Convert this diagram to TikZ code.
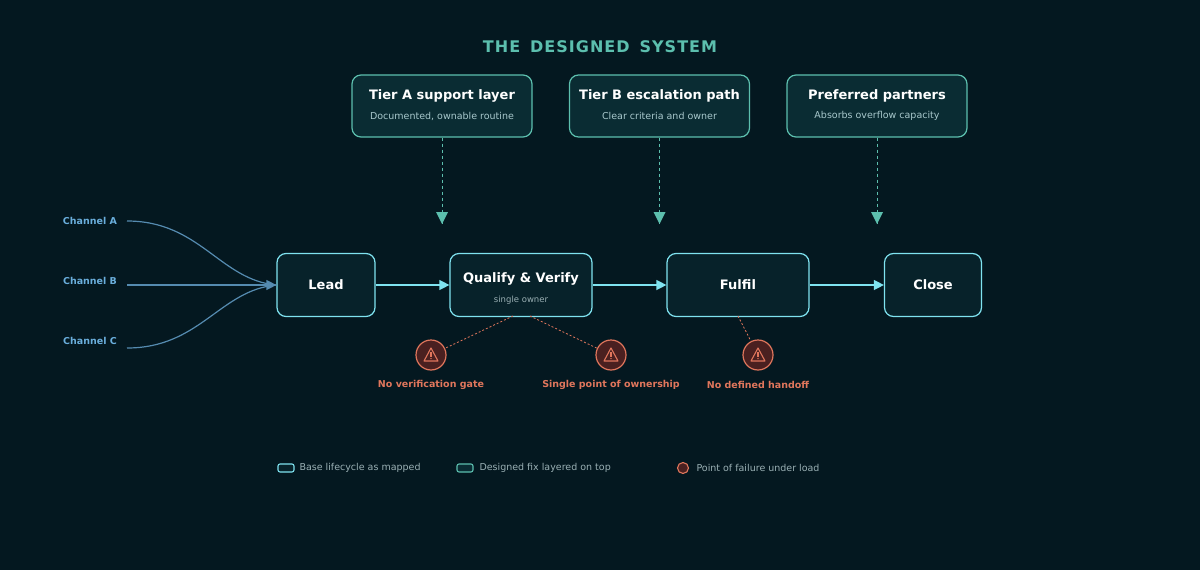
\documentclass[tikz,border=0pt]{standalone}
\usepackage{fontspec}
\setmainfont{DejaVu Sans}
\usetikzlibrary{arrows.meta}
\definecolor{bg}{HTML}{041820}
\definecolor{tealc}{HTML}{5CBFAE}
\definecolor{cyanc}{HTML}{7FE3F0}
\definecolor{chan}{HTML}{6AAEDC}
\definecolor{warnc}{HTML}{E0765C}
\definecolor{warnfill}{HTML}{4A2020}
\definecolor{topfill}{HTML}{0A2C33}
\definecolor{mainfill}{HTML}{07222A}
\definecolor{subc}{HTML}{A8C8CC}
\definecolor{legc}{HTML}{9AB0B4}
\tikzset{
 fixbx/.style={draw=tealc,fill=topfill,line width=1.2pt,rounded corners=9pt,minimum width=180pt,minimum height=62pt},
 stage/.style={draw=cyanc,fill=mainfill,line width=1.2pt,rounded corners=9pt,minimum height=63pt,text=white,font=\bfseries\fontsize{13}{15}\selectfont},
 warncirc/.style={circle,draw=warnc,fill=warnfill,line width=1.2pt,minimum size=30pt,inner sep=0pt},
 wlab/.style={text=warnc,font=\bfseries\fontsize{9.5}{11}\selectfont},
 chl/.style={text=chan,font=\bfseries\fontsize{9.5}{11}\selectfont},
 flow/.style={cyanc,line width=1.3pt,-{Triangle[length=10pt,width=10pt]}},
 fixdash/.style={tealc,line width=1pt,dash pattern=on 3pt off 3pt},
 wdot/.style={warnc,line width=0.8pt,dash pattern=on 2pt off 2pt},
 chcurve/.style={chan!80!black,line width=1.2pt},
 legt/.style={text=legc,font=\fontsize{9.5}{11}\selectfont,anchor=west},
}
\begin{document}
\begin{tikzpicture}[x=1pt,y=-1pt]
\fill[bg] (0,0) rectangle (1200,570);
\useasboundingbox (0,0) rectangle (1200,570);
\node[text=tealc,font=\bfseries\fontsize{16}{18}\selectfont] (title) at (600,47) {T\kern1pt H\kern1pt E\; D\kern1pt E\kern1pt S\kern1pt I\kern1pt G\kern1pt N\kern1pt E\kern1pt D\; S\kern1pt Y\kern1pt S\kern1pt T\kern1pt E\kern1pt M};
\newcommand\fixbox[4]{\node[fixbx] (#1) at (#2,106) {};
 \node[text=white,font=\bfseries\fontsize{13}{15}\selectfont] (#1t) at (#2,96) {#3};
 \node[text=subc,font=\fontsize{9.5}{11}\selectfont] (#1s) at (#2,116) {#4};}
\fixbox{ta}{442}{Tier A support layer}{Documented, ownable routine}
\fixbox{tb}{659.5}{Tier B escalation path}{Clear criteria and owner}
\fixbox{pp}{877}{Preferred partners}{Absorbs overflow capacity}
\coordinate (ea) at (442,224);\coordinate (eb) at (659.5,224);\coordinate (ep) at (877,224);
\foreach \a/\b in {ta/ea,tb/eb,pp/ep}{
 \draw[fixdash] (\a.south) -- (\b);
 \fill[tealc] (\b) ++(-6,-12) -- ++(12,0) -- ++(-6,12) -- cycle;}
\node[stage,minimum width=98pt] (lead) at (326,285) {Lead};
\node[stage,minimum width=142pt] (qv) at (521,285) {};
\node[text=white,font=\bfseries\fontsize{13}{15}\selectfont] (qvt) at (521,279) {Qualify \& Verify};
\node[text=legc,font=\fontsize{8.5}{10}\selectfont] (qvs) at (521,300) {single owner};
\node[stage,minimum width=142pt] (ff) at (738,285) {Fulfil};
\node[stage,minimum width=97pt] (cl) at (933,285) {Close};
\draw[flow] (lead) -- (qv);
\draw[flow] (qv) -- (ff);
\draw[flow] (ff) -- (cl);
\node[chl] (ca) at (90,221) {Channel A};
\node[chl] (cb) at (90,281) {Channel B};
\node[chl] (cc) at (90,341) {Channel C};
\coordinate (ia) at (127,221);\coordinate (ib) at (127,285);\coordinate (ic) at (127,348);
\draw[chcurve] (ia) .. controls (200,221) and (220,280) .. (lead.west);
\draw[chcurve] (ic) .. controls (200,348) and (220,290) .. (lead.west);
\draw[chcurve,-{Triangle[length=10pt,width=10pt]}] (ib) -- (lead.west);
\newcommand\warnnode[3]{\node[warncirc] (#1) at (#2,355) {};
 \draw[warnc,line width=1.1pt,line join=round] (#2,348) -- (#2+7,361) -- (#2-7,361) -- cycle;
 \draw[warnc,line width=1.1pt] (#2,352) -- (#2,356.5);
 \fill[warnc] (#2,358.6) circle (0.8);
 \node[wlab] (#1l) at (#2,385) {#3};}
\warnnode{w1}{431}{No verification gate}
\warnnode{w2}{611}{Single point of ownership}
\warnnode{w3}{758}{No defined handoff}
\coordinate (q1) at (513,316);\coordinate (q2) at (530,316);\coordinate (f1) at (738,316);
\draw[wdot] (q1) -- (w1);
\draw[wdot] (q2) -- (w2);
\draw[wdot] (f1) -- (w3);
\node[draw=cyanc,fill=mainfill,line width=1.1pt,rounded corners=2pt,minimum width=16pt,minimum height=8pt,inner sep=0pt] (l1) at (286,468) {};
\node[legt] at (296,468) {Base lifecycle as mapped};
\node[draw=tealc,fill=topfill,line width=1.1pt,rounded corners=2pt,minimum width=16pt,minimum height=8pt,inner sep=0pt] (l2) at (465,468) {};
\node[legt] at (476,468) {Designed fix layered on top};
\node[circle,draw=warnc,fill=warnfill,line width=1.1pt,minimum size=11pt,inner sep=0pt] (l3) at (683,468) {};
\node[legt] at (693,468) {Point of failure under load};
\end{tikzpicture}
\end{document}
